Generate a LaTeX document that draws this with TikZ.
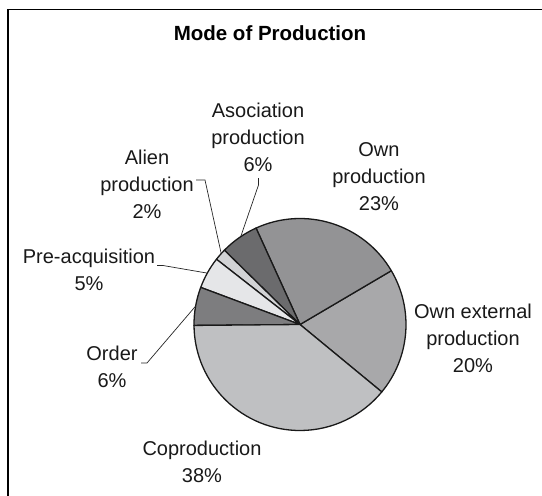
\documentclass[tikz,border=0pt]{standalone}
\usepackage{fontspec}
\setmainfont{Liberation Sans}
\usetikzlibrary{calc}
\begin{document}
\begin{tikzpicture}[x=1pt,y=-1pt,
  lbl/.style={align=center,inner sep=0pt,font=\fontsize{20}{27}\selectfont,text=black!90},
  slice/.style={draw=black!90,line width=1.3pt,line join=round},
  leader/.style={draw=black!85,line width=0.7pt}]
\useasboundingbox (0,0) rectangle (542,496);
\definecolor{cOwn}{HTML}{939395}
\definecolor{cExt}{HTML}{A8A8AA}
\definecolor{cCop}{HTML}{BFC0C2}
\definecolor{cOrd}{HTML}{7D7D7F}
\definecolor{cPre}{HTML}{E5E6E8}
\definecolor{cAli}{HTML}{D2D3D5}
\definecolor{cAso}{HTML}{6B6B6D}
% frame (cropped)
\draw[line width=1.5pt] (8,496) -- (8,9.5) -- (542,9.5);
% title
\node[font=\bfseries\fontsize{20.5}{24}\selectfont] (title) at (270,33) {Mode of Production};
% pie
\coordinate (c) at (300,324.5);
\def\R{106}
\foreach \a/\b/\col in {-39.5/30.5/cExt, 30.5/114.5/cOwn, 114.5/135.5/cAso, 135.5/142/cAli, 142/159.5/cPre, 159.5/180.5/cOrd, 180.5/320.5/cCop}{
  \filldraw[slice,fill=\col] (c) -- ($(c)+(-\a:\R)$) arc[start angle=-\a,end angle=-\b,radius=\R] -- cycle;
}
% labels
\node[lbl] (own) at (379,176.5) {Own\\production\\23\%};
\node[lbl] (ext) at (473,338) {Own external\\production\\20\%};
\node[lbl] (cop) at (202,461.5) {Coproduction\\38\%};
\node[lbl] (ord) at (112,367) {Order\\6\%};
\node[lbl] (pre) at (89,270) {Pre-acquisition\\5\%};
\node[lbl] (ali) at (147,184.5) {Alien\\production\\2\%};
\node[lbl] (aso) at (258,137) {Asociation\\production\\6\%};
% leader lines
\coordinate (eAli) at ($(c)+(-138:\R)$);
\coordinate (eAso) at ($(c)+(-124:\R)$);
\coordinate (ePre) at ($(c)+(-151:\R)$);
\coordinate (eOrd) at ($(c)+(-170:\R)$);
\coordinate (tAli) at (196,180);
\coordinate (tAso) at (258.5,178);
\coordinate (tPre) at (157,265.5);
\coordinate (tOrd) at (141,363);
\draw[leader] (tAli) -- (205,180) -- (eAli);
\draw[leader] (tAso) -- (258.5,185) -- (eAso);
\draw[leader] (tPre) -- (163,265.5) -- (ePre);
\draw[leader] (tOrd) -- (147,363) -- (eOrd);
\end{tikzpicture}
\end{document}
